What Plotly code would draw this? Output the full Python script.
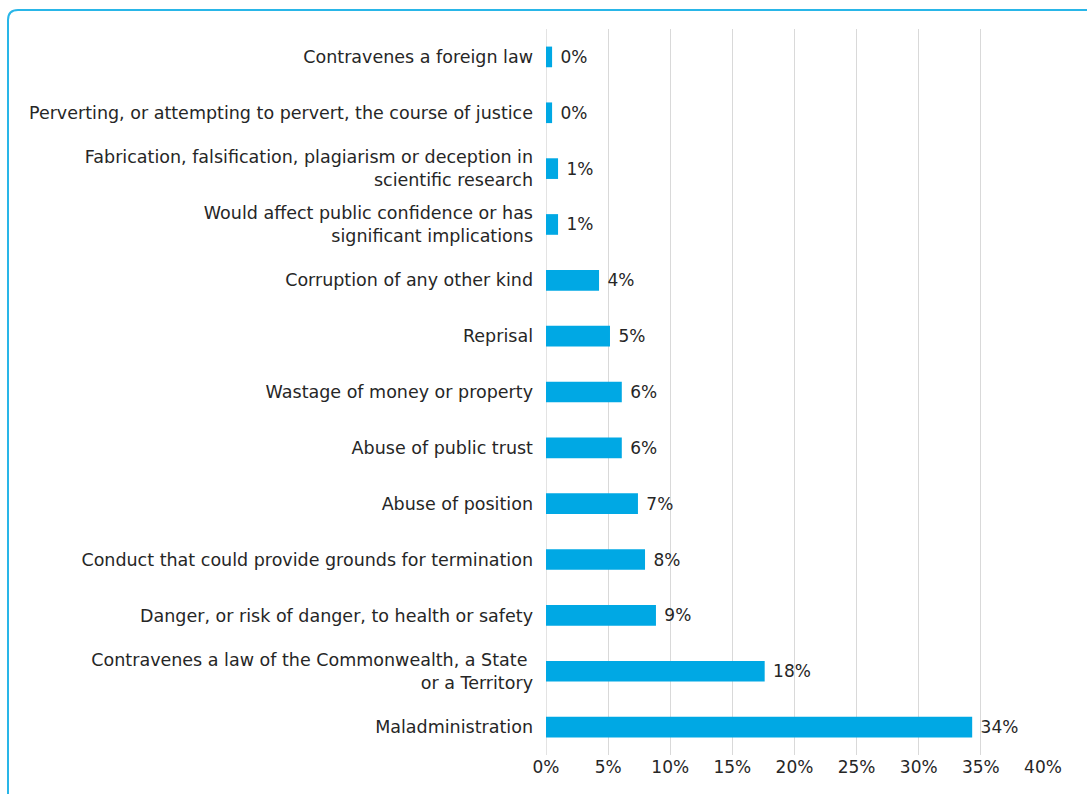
import plotly.graph_objects as go

categories = [
    "Maladministration",
    "Contravenes a law of the Commonwealth, a State <br>or a Territory",
    "Danger, or risk of danger, to health or safety",
    "Conduct that could provide grounds for termination",
    "Abuse of position",
    "Abuse of public trust",
    "Wastage of money or property",
    "Reprisal",
    "Corruption of any other kind",
    "Would affect public confidence or has<br>significant implications",
    "Fabrication, falsification, plagiarism or deception in<br>scientific research",
    "Perverting, or attempting to pervert, the course of justice",
    "Contravenes a foreign law",
]
shares = [34.3, 17.6, 8.85, 7.97, 7.4, 6.1, 6.1, 5.15, 4.27, 0.97, 0.97, 0.49, 0.49]

labels = [f" {v:.0f}%" for v in shares]

FONT = "DejaVu Sans"
BAR = "#00A8E4"
TEXT = "#262626"

fig = go.Figure(
    go.Bar(
        y=categories,
        x=shares,
        orientation="h",
        marker=dict(color=BAR, line=dict(width=0)),
        text=labels,
        textposition="outside",
        textfont=dict(family=FONT, size=17, color=TEXT),
        cliponaxis=False,
        width=0.37,
    )
)

fig.update_layout(
    width=1087,
    height=794,
    margin=dict(l=546, r=44, t=29, b=39),
    paper_bgcolor="white",
    plot_bgcolor="white",
    showlegend=False,
    font=dict(family=FONT, size=17, color=TEXT),
    xaxis=dict(
        range=[0, 40],
        tickvals=[0, 5, 10, 15, 20, 25, 30, 35, 40],
        ticktext=["0%", "5%", "10%", "15%", "20%", "25%", "30%", "35%", "40%"],
        showgrid=True,
        gridcolor="#D9D9D9",
        gridwidth=1,
        zeroline=False,
        showline=False,
        ticks="",
        ticklabelstandoff=0,
        tickfont=dict(family=FONT, size=17, color=TEXT),
    ),
    yaxis=dict(
        categoryorder="array",
        categoryarray=categories,
        range=[-0.5, len(categories) - 0.5],
        showgrid=False,
        zeroline=False,
        showline=False,
        ticks="",
        ticklabelstandoff=12,
        tickfont=dict(family=FONT, size=17.5, color=TEXT),
    ),
    shapes=[
        # rounded frame around the chart
        dict(
            type="path",
            xref="paper", yref="paper",
            xsizemode="pixel", ysizemode="pixel",
            xanchor=0, yanchor=1,
            path="M -538,-790 L -538,9 Q -538,19 -528,19 L 580,19",
            line=dict(color="#29B6E8", width=2),
            fillcolor="rgba(0,0,0,0)",
            layer="below",
        ),
        # zero line drawn slightly darker than the grid
        dict(
            type="line", xref="x", yref="paper",
            x0=0, x1=0, y0=0, y1=1,
            line=dict(color="#C8C8C8", width=1),
            layer="below",
        ),
    ],
)

fig.write_html("out.html")
